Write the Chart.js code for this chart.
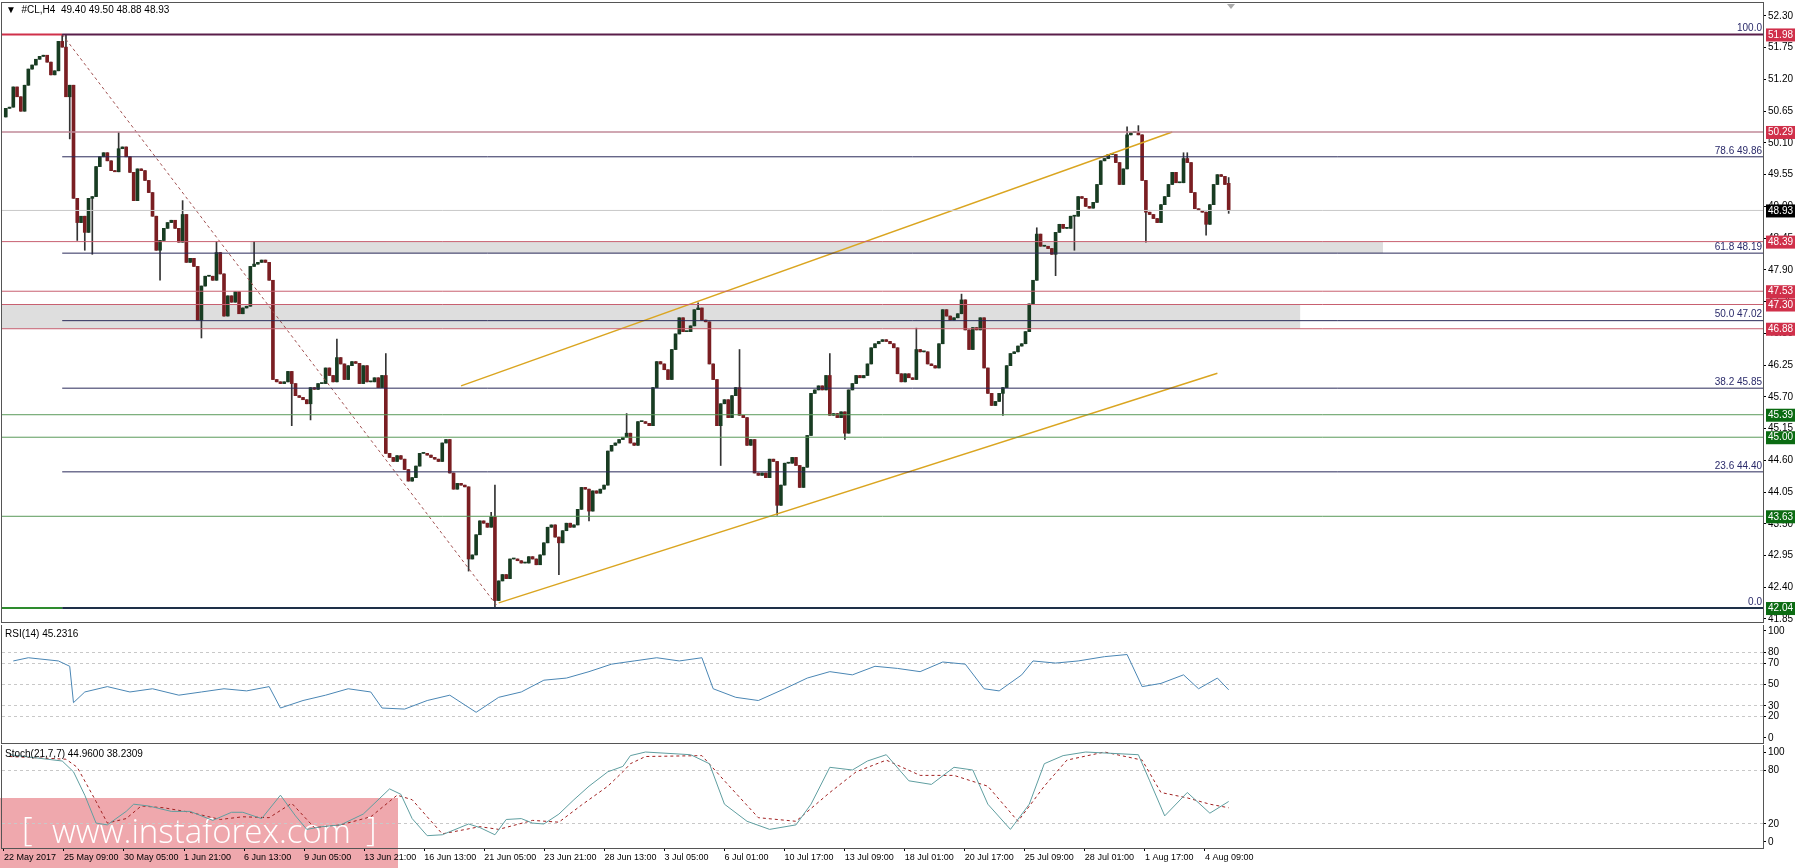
<!DOCTYPE html>
<html><head><meta charset="utf-8">
<script src="https://cdn.jsdelivr.net/npm/chart.js@4.4.1/dist/chart.umd.min.js"></script>
<style>
body{margin:0;background:#fff;width:1800px;height:868px;overflow:hidden;position:relative}
canvas{position:absolute;left:0}
</style></head><body>
<canvas id="main" width="1800" height="625" style="top:0"></canvas>
<canvas id="rsi" width="1800" height="120" style="top:625px"></canvas>
<canvas id="stoch" width="1800" height="123" style="top:745px"></canvas>
<script>
// H4 closes (open = previous close)
const closes = [
50.7,50.72,51.07,50.9,50.65,51.1,51.38,51.45,51.55,51.6,
51.62,51.5,51.28,51.35,51.86,51.76,50.9,51.1,49.14,48.72,
48.83,48.55,49.14,49.17,49.69,49.86,49.93,49.79,49.62,49.6,
50.0,50.03,49.86,49.59,49.1,49.65,49.62,49.45,49.24,48.83,
48.24,48.41,48.62,48.72,48.76,48.62,48.38,48.86,48.03,48.1,
47.96,47.03,47.62,47.79,47.79,47.72,48.2,47.83,47.1,47.45,
47.34,47.52,47.14,47.24,47.27,47.96,48.0,48.03,48.07,48.03,
47.72,46.0,45.96,45.93,45.96,46.14,45.93,45.72,45.69,45.65,
45.58,45.86,45.83,45.93,45.93,46.2,46.07,45.96,46.38,46.27,
46.0,46.24,46.31,46.28,45.93,46.24,45.96,45.96,46.03,45.86,
46.07,44.72,44.65,44.58,44.68,44.62,44.44,44.24,
44.3,44.5,44.72,44.72,44.69,44.65,44.62,44.58,44.9,44.96,
44.38,44.1,44.2,44.17,44.14,42.89,42.96,43.31,43.55,43.51,
43.44,43.62,42.17,42.51,42.62,42.55,42.89,42.89,42.86,42.82,
42.82,42.93,42.89,42.79,42.96,43.17,43.44,43.48,43.27,43.17,
43.38,43.51,43.44,43.48,43.75,44.13,44.1,43.72,44.07,44.03,
44.1,44.17,44.76,44.86,44.9,44.96,45.0,45.07,44.9,44.86,
45.27,45.27,45.24,45.2,45.86,46.31,46.27,46.17,46.0,46.52,
46.79,47.07,46.83,46.83,46.93,47.21,47.24,47.03,47.0,46.27,
46.0,45.2,45.58,45.65,45.34,45.72,45.86,45.38,45.34,44.86,
44.96,44.38,44.34,44.38,44.3,44.62,44.58,43.82,44.17,44.55,
44.55,44.65,44.51,44.13,44.48,45.03,45.76,45.82,45.89,45.82,
46.07,
45.38,45.41,45.34,45.44,45.07,45.82,45.93,46.07,46.03,46.07,
46.27,46.55,46.62,46.66,46.69,46.66,46.62,46.55,46.1,45.96,
46.1,46.03,46.0,46.52,46.48,46.48,46.27,46.24,46.2,46.62,
47.21,47.1,47.03,47.07,47.14,47.38,46.86,46.52,46.9,46.86,
47.07,46.2,45.76,45.55,45.62,45.76,45.86,46.24,46.45,46.48,
46.58,46.62,46.83,47.31,47.72,48.52,48.31,48.31,48.27,48.17,
48.55,48.69,48.62,48.62,48.83,48.83,49.17,49.14,49.0,48.97,
49.07,49.38,49.79,49.83,49.9,49.9,49.76,49.38,49.65,50.24,
50.28,50.28,50.24,49.45,48.9,48.86,48.79,48.72,49.03,49.17,
49.38,49.59,49.41,49.41,49.83,49.76,49.24,48.96,48.93,48.9,
48.69,49.03,49.38,49.55,49.52,49.38,48.93
];
const firstOpen = 50.55;
// notable wicks: [candle, high, low]
const wicks = [
[15,51.98,null],[16,51.98,null],[17,null,50.17],[19,null,48.41],[21,null,48.24],[23,null,48.17],
[30,50.28,null],[41,null,47.72],[47,49.1,null],[52,null,46.72],[56,48.39,null],[66,48.39,null],
[76,null,45.2],[81,null,45.3],[88,46.7,null],[101,46.45,null],[123,null,42.68],[129,43.7,null],
[130,44.17,42.04],[147,null,42.62],[155,null,43.55],[165,45.41,null],[184,47.33,null],[190,null,44.51],
[195,46.52,null],[205,null,43.65],[219,46.45,null],[223,null,44.96],[242,46.89,null],[254,47.48,null],
[265,null,45.38],[274,48.63,null],[279,null,47.8],[284,null,48.24],[298,50.38,null],[301,50.4,null],
[303,null,48.38],[313,49.93,null],[314,49.93,null],[319,null,48.5],[325,49.5,48.88]
];
const priceTicks = [52.30,51.75,51.20,50.65,50.10,49.55,49.00,48.45,47.90,47.35,46.80,46.25,45.70,45.15,44.60,44.05,43.50,42.95,42.40,41.85];
const fibLevels = [51.98,49.86,48.19,47.02,45.85,44.40,42.04];
const fibNames = ['100.0','78.6 49.86','61.8 48.19','50.0 47.02','38.2 45.85','23.6 44.40','0.0'];
const resistLevels = [51.98,50.29,48.39,47.53,47.30,46.88];
const supportLevels = [45.39,45.00,43.63,42.04];
const lastPrice = 48.93;
const bands = [[48.19,48.39,65,366],[46.88,47.30,-1,344]];
const upperChannel = [[121,45.89],[310,50.29]];
const lowerChannel = [[131,42.13],[322,46.11]];
const fibDiagonal = [[15,51.98],[131,42.04]];
const rsiPts = [[2,72],[6,75],[14,72],[17,67],[18,33],[21,43],[27,48],[33,43],[39,46],[46,40],[52,43],[58,46],[64,44],[70,48],[73,28],[79,35],[85,40],[91,46],[97,43],[100,28],[106,27],[112,35],[118,40],[125,24],[131,38],[137,43],[143,54],[149,56],[155,62],[161,69],[167,72],[173,75],[179,72],[185,75],[188,46],[194,38],[200,35],[207,46],[213,56],[219,62],[225,59],[231,67],[237,65],[243,62],[249,71],[255,69],[260,46],[264,44],[270,59],[273,72],[279,70],[285,72],[292,76],[298,78],[302,48],[307,51],[313,59],[317,46],[322,56],[325,45]];
const stochK = [[1,97],[15,90],[18,78],[21,52],[24,21],[27,19],[32,34],[34,42],[38,40],[44,34],[49,34],[55,24],[60,33],[63,33],[68,26],[73,52],[77,29],[80,14],[84,17],[89,19],[95,31],[102,59],[105,53],[108,26],[112,7],[116,8],[123,20],[126,16],[130,8],[133,25],[137,26],[140,21],[143,20],[147,31],[151,47],[155,62],[160,78],[164,84],[166,96],[170,100],[182,97],[187,87],[191,42],[197,23],[203,14],[210,19],[214,42],[219,83],[225,80],[229,90],[234,97],[240,68],[246,64],[252,83],[257,80],[261,42],[267,14],[272,42],[276,87],[281,96],[287,100],[301,97],[304,68],[308,29],[314,55],[320,32],[325,45]];
const stochD = [[1,95],[16,92],[19,83],[24,45],[27,21],[32,26],[36,40],[42,38],[49,33],[57,25],[63,28],[70,27],[76,43],[82,16],[89,19],[97,28],[104,52],[108,47],[116,9],[126,17],[131,14],[140,24],[147,22],[153,41],[160,62],[164,78],[166,87],[170,95],[185,96],[191,68],[200,27],[210,23],[219,55],[226,78],[234,91],[243,74],[252,74],[261,62],[269,23],[276,62],[282,91],[292,100],[302,91],[307,55],[314,49],[320,42],[325,38]];
const dateLabels = ['22 May 2017','25 May 09:00','30 May 05:00','1 Jun 21:00','6 Jun 13:00','9 Jun 05:00','13 Jun 21:00','16 Jun 13:00','21 Jun 05:00','23 Jun 21:00','28 Jun 13:00','3 Jul 05:00','6 Jul 01:00','10 Jul 17:00','13 Jul 09:00','18 Jul 01:00','20 Jul 17:00','25 Jul 09:00','28 Jul 01:00','1 Aug 17:00','4 Aug 09:00'];

const X_MIN = -1, X_MAX = 467, FIB_START = 15, LABEL_STEP = 15.96;
Chart.defaults.font.family = 'Liberation Sans';
Chart.defaults.font.size = 10;
Chart.defaults.color = '#000';
Chart.defaults.animation = false;

const opens = closes.map((c, i) => i ? closes[i - 1] : firstOpen);
opens[325] = 49.40;
const highs = closes.map((c, i) => Math.max(c, opens[i]));
const lows = closes.map((c, i) => Math.min(c, opens[i]));
wicks.forEach(([i, h, l]) => { if (h !== null) highs[i] = h; if (l !== null) lows[i] = l; });

const seg = (pts, color, width, dash) => ({
    type: 'line', data: pts.map(p => ({x: p[0], y: p[1]})), borderColor: color,
    borderWidth: width || 1, borderDash: dash || [], pointRadius: 0, order: 0
});
const hline = (v, from, color, w) => seg([[from, v], [X_MAX, v]], color, w);

const levelDatasets = [
    hline(lastPrice, X_MIN, '#c8c8c8', 1),
    hline(51.98, FIB_START, '#5a1e4a', 2), seg([[X_MIN, 51.98], [FIB_START, 51.98]], '#d0304a', 2),
    hline(50.29, X_MIN, '#c08a98', 1.5),
    ...resistLevels.slice(2).map(v => hline(v, X_MIN, '#c86070', 1)),
    ...fibLevels.slice(1, 6).map(v => hline(v, FIB_START, '#2a2a5a', 1)),
    ...supportLevels.slice(0, 3).map(v => hline(v, X_MIN, '#5a9a5a', 1)),
    hline(42.04, FIB_START, '#1e3048', 2), seg([[X_MIN, 42.04], [FIB_START, 42.04]], '#2e8b2e', 2),
    seg(upperChannel, '#daa520', 1.5), seg(lowerChannel, '#daa520', 1.5),
    seg(fibDiagonal, '#a05050', 1, [3, 3])
];

function frame(chart) {
    const a = chart.chartArea, ctx = chart.ctx;
    ctx.save(); ctx.strokeStyle = '#555'; ctx.lineWidth = 1;
    ctx.strokeRect(a.left - 0.5, a.top - 0.5, a.right - a.left + 1, a.bottom - a.top + 1);
    ctx.restore();
}
const rightAxis = (min, max, ticks, fmt, gridFn) => ({
    position: 'right', min: min, max: max,
    afterFit: s => { s.width = 37; s.paddingTop = 0; s.paddingBottom = 0; },
    afterBuildTicks: s => { s.ticks = ticks.map(v => ({value: v})); },
    ticks: {padding: 2, callback: fmt, autoSkip: false},
    grid: gridFn ? {color: gridFn, tickLength: 3, tickColor: '#000', drawOnChartArea: true}
        : {drawOnChartArea: false, tickLength: 3, color: '#000'},
    border: {display: false, dash: [3, 3]}
});
const xAxis = show => ({
    type: 'linear', min: X_MIN, max: X_MAX, offset: false, display: show,
    afterFit: s => { s.height = show ? 20 : 0; s.paddingLeft = 0; s.paddingRight = 0; },
    afterBuildTicks: s => { s.ticks = dateLabels.map((d, k) => ({value: -0.5 + k * LABEL_STEP})); },
    ticks: {align: 'start', padding: 1, autoSkip: false, maxRotation: 0, font: {size: 9}, callback: (v, i) => dateLabels[i]},
    grid: {drawOnChartArea: false, tickLength: 3, color: '#000'}, border: {display: false}
});

new Chart(document.getElementById('main'), {
    type: 'bar',
    data: {datasets: [
        {data: closes.map((c, i) => ({x: i, y: [lows[i], highs[i]]})), backgroundColor: '#333', barThickness: 1, grouped: false, order: 2},
        {data: closes.map((c, i) => ({x: i, y: [opens[i], c]})), backgroundColor: closes.map((c, i) => c >= opens[i] ? '#183c22' : '#7a1e22'),
         barThickness: 3, minBarLength: 1, grouped: false, order: 1},
        ...levelDatasets
    ]},
    options: {
        responsive: false, devicePixelRatio: 1,
        layout: {padding: {left: 2, top: 3, bottom: 3, right: 0}},
        plugins: {legend: {display: false}, tooltip: {enabled: false}},
        scales: {
            x: xAxis(false),
            y: rightAxis(41.798, 52.525, priceTicks, v => v.toFixed(2))
        }
    },
    plugins: [{
        id: 'decor',
        beforeDatasetsDraw(chart) {
            const {x, y} = chart.scales, ctx = chart.ctx;
            ctx.save(); ctx.fillStyle = '#dedede';
            bands.forEach(([lo, hi, a, b]) => {
                ctx.fillRect(x.getPixelForValue(a), y.getPixelForValue(hi), x.getPixelForValue(b) - x.getPixelForValue(a), y.getPixelForValue(lo) - y.getPixelForValue(hi));
            });
            ctx.restore();
        },
        afterDraw(chart) {
            const {y} = chart.scales, ctx = chart.ctx, a = chart.chartArea;
            frame(chart);
            ctx.save();
            ctx.font = '10px Liberation Sans'; ctx.fillStyle = '#2a2a6a'; ctx.textAlign = 'right'; ctx.textBaseline = 'bottom';
            fibLevels.forEach((v, i) => ctx.fillText(fibNames[i], a.right - 1, y.getPixelForValue(v) - 1));
            const box = (v, col) => {
                const py = y.getPixelForValue(v);
                ctx.fillStyle = col; ctx.fillRect(a.right + 3, py - 6, 29, 13);
                ctx.fillStyle = '#fff'; ctx.textAlign = 'left'; ctx.textBaseline = 'middle';
                ctx.fillText(v.toFixed(2), a.right + 5, py + 0.5);
            };
            resistLevels.forEach(v => box(v, '#d0304a'));
            supportLevels.forEach(v => box(v, '#0b6b12'));
            box(lastPrice, '#000');
            ctx.fillStyle = '#000'; ctx.textAlign = 'left'; ctx.textBaseline = 'middle';
            ctx.fillText('\u25BC  #CL,H4  49.40 49.50 48.88 48.93', 6, 10);
            ctx.fillStyle = '#aaa'; ctx.beginPath();
            ctx.moveTo(1227, 4); ctx.lineTo(1235, 4); ctx.lineTo(1231, 9); ctx.fill();
            ctx.restore();
        }
    }]
});

const dashGrid = levels => ctx => levels.includes(ctx.tick.value) ? '#c8c8c8' : 'rgba(0,0,0,0)';
const indicatorOpts = (min, max, ticks, dashed, showX) => ({
    responsive: false, devicePixelRatio: 1,
    layout: {padding: {left: 2, top: 0, bottom: showX ? 0 : 2, right: 0}},
    plugins: {legend: {display: false}, tooltip: {enabled: false}},
    scales: {
        x: xAxis(showX),
        y: rightAxis(min, max, ticks, v => String(v), dashGrid(dashed))
    }
});
function indicatorPlugin(label, extra) {
    return {
        id: 'ind',
        beforeDraw(chart) { if (extra) extra(chart.ctx); },
        afterDraw(chart) {
            frame(chart);
            const ctx = chart.ctx;
            ctx.save(); ctx.fillStyle = '#000'; ctx.font = '10px Liberation Sans';
            ctx.textAlign = 'left'; ctx.textBaseline = 'top';
            ctx.fillText(label, 5, chart.chartArea.top + 4);
            ctx.restore();
        }
    };
}

new Chart(document.getElementById('rsi'), {
    type: 'line',
    data: {datasets: [{data: rsiPts.map(p => ({x: p[0], y: p[1]})), borderColor: '#4a86b4', borderWidth: 1, pointRadius: 0}]},
    options: indicatorOpts(-4.7, 105.6, [0, 20, 30, 50, 70, 80, 100], [20, 30, 50, 70, 80], false),
    plugins: [indicatorPlugin('RSI(14) 45.2316')]
});

new Chart(document.getElementById('stoch'), {
    type: 'line',
    data: {datasets: [
        {data: stochK.map(p => ({x: p[0], y: p[1]})), borderColor: '#5f9ea0', borderWidth: 1, pointRadius: 0},
        {data: stochD.map(p => ({x: p[0], y: p[1]})), borderColor: '#a02020', borderWidth: 1, borderDash: [3, 3], pointRadius: 0}
    ]},
    options: indicatorOpts(-6.7, 107.8, [0, 20, 80, 100], [20, 80], true),
    plugins: [indicatorPlugin('Stoch(21,7,7) 44.9600 38.2309', ctx => {
        ctx.save();
        ctx.fillStyle = 'rgba(228,110,118,0.6)';
        ctx.fillRect(0, 53, 398, 70);
        ctx.fillStyle = '#fff'; ctx.textBaseline = 'middle'; ctx.textAlign = 'left';
        ctx.font = '300 33px Open Sans';
        ctx.fillText('[', 22, 87);
        ctx.fillText('www.instaforex.com', 52, 89);
        ctx.fillText(']', 366, 87);
        ctx.restore();
    })]
});
</script>
</body></html>
